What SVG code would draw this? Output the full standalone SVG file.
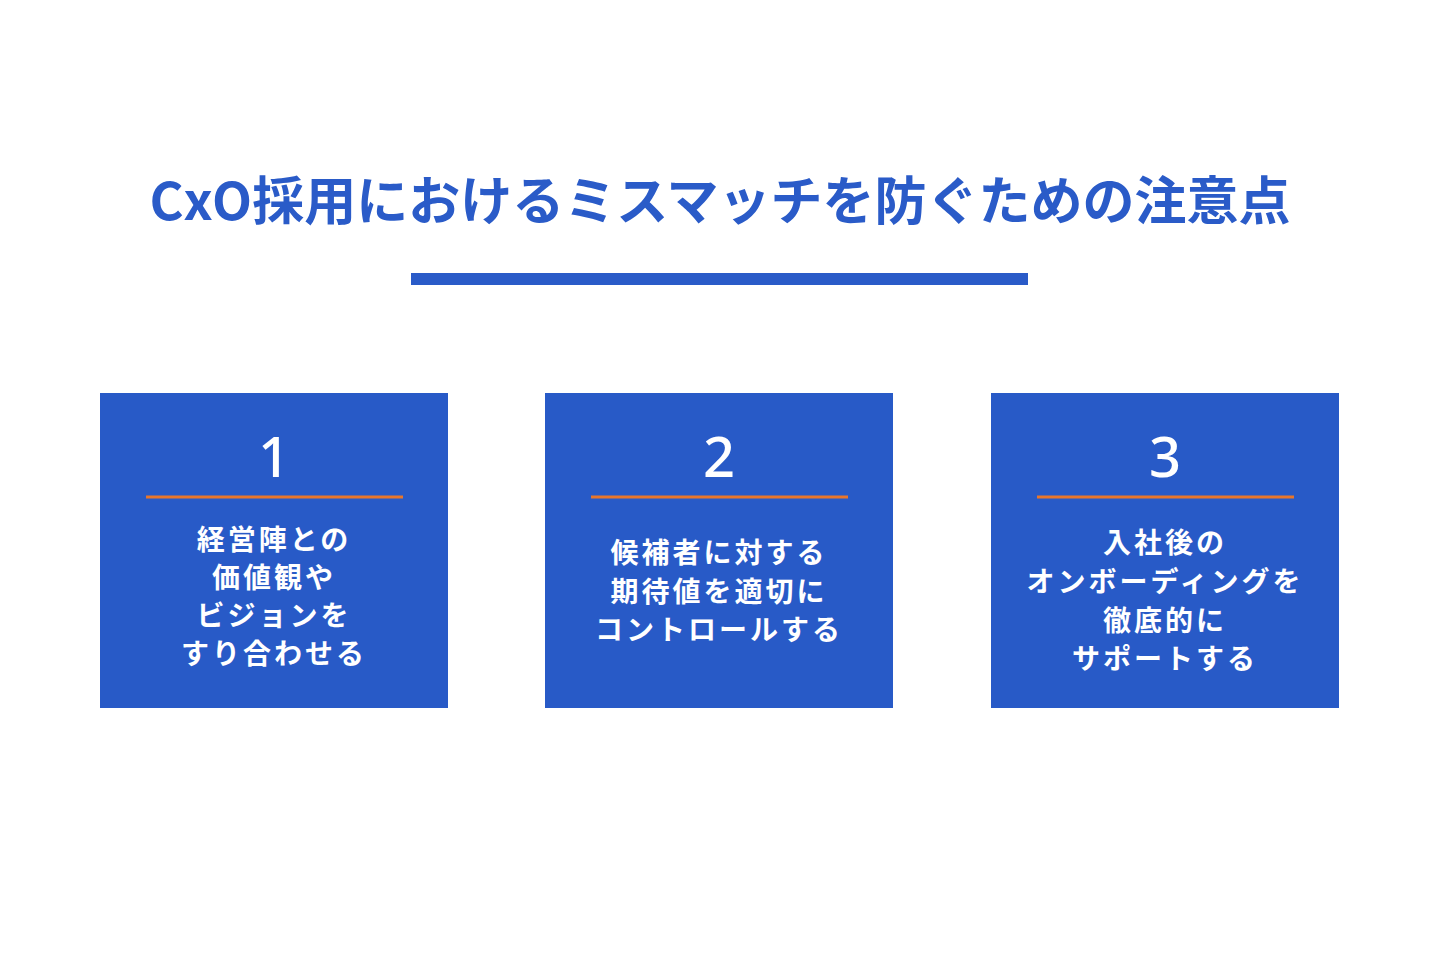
<svg xmlns="http://www.w3.org/2000/svg" width="1440" height="960" viewBox="0 0 1440 960">
<style>
.t{font-family:"Noto Sans CJK JP","Noto Sans",sans-serif;font-weight:bold;text-anchor:middle}
.title{font-size:52px;fill:#2a5bc8}
.num{font-size:56px;fill:#fff;font-family:"Noto Sans","Noto Sans CJK JP",sans-serif;font-weight:500;text-anchor:middle}
.body{font-size:28px;fill:#fff;letter-spacing:3px}
.box{fill:#285ac7}
.ln{stroke:#e8762b;stroke-width:3}
</style>
<rect width="1440" height="960" fill="#fff"/>
<g id="title">
<text class="t title" x="720" y="220">CxO採用におけるミスマッチを防ぐための注意点</text>
<rect x="411" y="273" width="617" height="12" fill="#2a5bc8"/>
</g>
<g id="node1">
<rect class="box" x="100" y="393" width="348" height="315"/>
<text class="num" x="274" y="477">1</text>
<line class="ln" x1="146" y1="497" x2="403" y2="497"/>
<text class="t body" x="274"><tspan x="274" y="550">経営陣との</tspan><tspan x="274" y="588">価値観や</tspan><tspan x="274" y="626">ビジョンを</tspan><tspan x="274" y="664">すり合わせる</tspan></text>
</g>
<g id="node2">
<rect class="box" x="545" y="393" width="348" height="315"/>
<text class="num" x="719" y="477">2</text>
<line class="ln" x1="591" y1="497" x2="848" y2="497"/>
<text class="t body" x="719"><tspan x="719" y="563">候補者に対する</tspan><tspan x="719" y="602">期待値を適切に</tspan><tspan x="719" y="640">コントロールする</tspan></text>
</g>
<g id="node3">
<rect class="box" x="991" y="393" width="348" height="315"/>
<text class="num" x="1165" y="477">3</text>
<line class="ln" x1="1037" y1="497" x2="1294" y2="497"/>
<text class="t body" x="1165"><tspan x="1165" y="553">入社後の</tspan><tspan x="1165" y="592">オンボーディングを</tspan><tspan x="1165" y="631">徹底的に</tspan><tspan x="1165" y="669">サポートする</tspan></text>
</g>
<g id="connectors"/>
</svg>
